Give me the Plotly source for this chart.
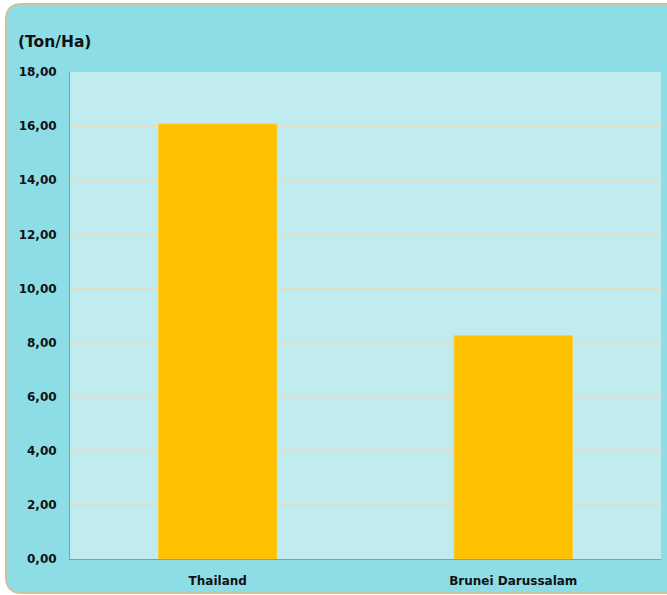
import plotly.graph_objects as go

# Yield by country (tonnes per hectare)
countries = ["Thailand", "Brunei Darussalam"]
yields = [16.08, 8.25]
y_ticks = [0, 2, 4, 6, 8, 10, 12, 14, 16, 18]

W, H = 667, 595
ML, MR, MT, MB = 70, 6, 72, 36
PW, PH = W - ML - MR, H - MT - MB


def px(x):
    return (x - ML) / PW


def py(y):
    return (H - MB - y) / PH


# rounded panel behind the chart
x0, x1, y0, y1, r = 6, 690, 4, 593, 16
path = (
    f"M {px(x0 + r)},{py(y0)} L {px(x1)},{py(y0)} L {px(x1)},{py(y1)} "
    f"L {px(x0 + r)},{py(y1)} Q {px(x0)},{py(y1)} {px(x0)},{py(y1 - r)} "
    f"L {px(x0)},{py(y0 + r)} Q {px(x0)},{py(y0)} {px(x0 + r)},{py(y0)} Z"
)

font = "DejaVu Sans"

fig = go.Figure(
    go.Bar(
        x=countries,
        y=yields,
        marker=dict(color="#FFC000", line=dict(color="#FFCC33", width=1)),
        width=0.4,
        hoverinfo="skip",
    )
)

fig.update_layout(
    width=W,
    height=H,
    margin=dict(l=ML, r=MR, t=MT, b=MB),
    paper_bgcolor="white",
    plot_bgcolor="#C0ECF0",
    separators=",.",
    showlegend=False,
    shapes=[
        dict(
            type="path",
            path=path,
            xref="paper",
            yref="paper",
            fillcolor="#8DDDE7",
            line=dict(color="#CFC39E", width=2),
            layer="below",
        ),
        # plot area fill
        dict(
            type="rect",
            x0=0, x1=1, y0=0, y1=1,
            xref="paper",
            yref="paper",
            fillcolor="#C0ECF0",
            line=dict(width=0),
            layer="below",
        ),
    ],
    annotations=[
        dict(
            text="<b>(Ton/Ha)</b>",
            xref="paper",
            yref="paper",
            x=px(16),
            y=py(42),
            xanchor="left",
            yanchor="middle",
            showarrow=False,
            font=dict(family=font, size=15.5, color="#111111"),
        )
    ],
)

fig.update_yaxes(
    range=[0, 18],
    tickvals=y_ticks,
    tickformat=".2f",
    showgrid=True,
    gridcolor="#DDDCC6",
    gridwidth=1,
    zeroline=False,
    showline=True,
    linecolor="#8F9A9C",
    linewidth=1,
    ticks="",
    ticklabelstandoff=10,
    tickfont=dict(family=font, size=12, color="#111111", weight="bold"),
)

fig.update_xaxes(
    showline=True,
    linecolor="#8F9A9C",
    linewidth=1,
    ticks="",
    ticklabelstandoff=11,
    tickfont=dict(family=font, size=12, color="#111111", weight="bold"),
)

fig.write_html("out.html")
